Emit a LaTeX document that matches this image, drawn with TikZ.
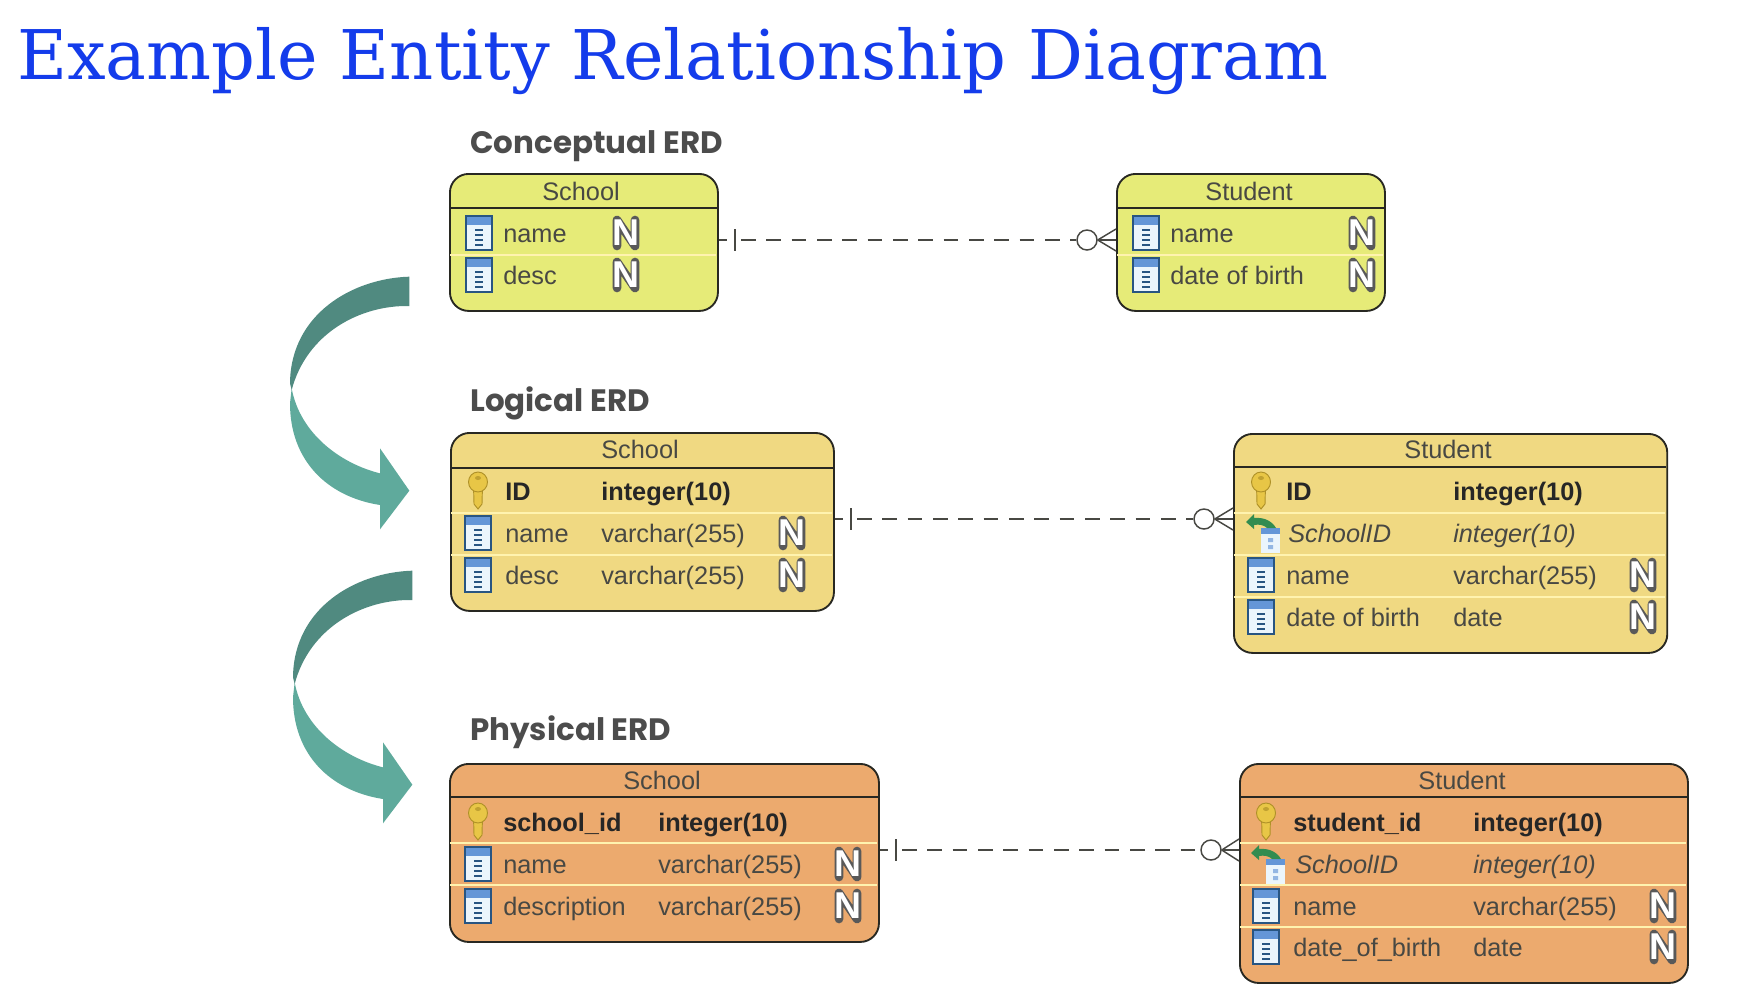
\documentclass[tikz,border=0pt]{standalone}
\usepackage{fontspec}
\setmainfont{Liberation Sans}
\newfontfamily\titlefont{DejaVu Serif}
\newfontfamily\headfont{Poppins}
\usetikzlibrary{calc}
\definecolor{concfill}{RGB}{230,235,120}
\definecolor{logfill}{RGB}{240,217,130}
\definecolor{physfill}{RGB}{236,170,110}
\definecolor{ink}{RGB}{40,40,34}
\definecolor{sepcream}{RGB}{255,243,175}
\definecolor{arrdark}{RGB}{80,138,128}
\definecolor{arrlight}{RGB}{95,170,156}
\definecolor{iconblue}{RGB}{100,150,215}
\definecolor{iconedge}{RGB}{40,85,130}
\definecolor{iconbody}{RGB}{235,245,252}
\definecolor{keygold}{RGB}{232,198,70}
\definecolor{keyedge}{RGB}{175,145,40}
\definecolor{fkgreen}{RGB}{50,140,80}
\tikzset{
  x=0.75pt,y=-0.75pt,
  erdbox/.style={draw=ink,line width=1.4pt,rounded corners=14pt,anchor=north west,inner sep=0pt},
  headline/.style={draw=ink,line width=1.3pt},
  rowsep/.style={draw=sepcream,line width=0.9pt},
  hdrtext/.style={font=\fontsize{19pt}{22pt}\selectfont,text=ink!85,inner sep=0pt,anchor=base,yshift=-0.75pt},
  fld/.style={font=\fontsize{19pt}{22pt}\selectfont,text=ink!85,inner sep=0pt,anchor=base west,yshift=-0.75pt},
  fldb/.style={font=\fontsize{19pt}{22pt}\selectfont\bfseries,text=black!85,inner sep=0pt,anchor=base west,yshift=-0.75pt},
  fldi/.style={font=\fontsize{19pt}{22pt}\selectfont\itshape,text=ink!85,inner sep=0pt,anchor=base west,yshift=-0.75pt},
  nulltxt/.style={font=\fontsize{28pt}{28pt}\selectfont\bfseries,text=white,inner sep=0pt,anchor=center},
  erdtitle/.style={font=\headfont\bfseries\fontsize{23.2pt}{27pt}\selectfont,text=black!70,inner sep=0pt,anchor=base west},
  stub/.style={draw=ink!85,line width=1.1pt},
  dashrel/.style={draw=ink!85,line width=1.1pt,dash pattern=on 11pt off 8pt},
  zeromark/.style={circle,draw=ink!85,line width=1.1pt,fill=white,minimum size=15pt,inner sep=0pt},
  colicon/.pic={
    \fill[iconbody] (-13,-17) rectangle (13,17);
    \fill[iconblue] (-13,-17) rectangle (13,-8);
    \draw[iconedge,line width=0.9pt] (-13,-17) rectangle (13,17);
    \draw[iconedge,line width=1pt] (-4,-3) -- (4,-3) (-4,2) -- (4,2) (-4,7) -- (4,7);
    \draw[iconedge,line width=2pt] (-4,12) -- (4,12);
  },
  keyicon/.pic={
    \draw[keyedge,fill=keygold,line width=0.7pt] (-4.5,-6) -- (4.5,-6) -- (4,13) -- (0,18) -- (-4,13) -- cycle;
    \draw[keyedge,fill=keygold,line width=0.7pt] (0,-9) ellipse [x radius=9.5,y radius=10];
    \fill[keyedge!70!keygold] (0,-13) ellipse [x radius=3,y radius=2];
  },
  fkicon/.pic={
    \fill[iconbody] (0,-5) rectangle (19,20);
    \fill[iconblue] (0,-5) rectangle (19,1);
    \fill[iconblue!70] (7,5) rectangle (12,9) (7,12) rectangle (12,16);
    \fill[fkgreen] (-15,-11) -- (-7,-19) -- (-7,-15) .. controls (3,-16) and (11,-12) .. (15,-5) -- (6,-5) .. controls (3,-8) and (-2,-9) .. (-7,-8) -- (-7,-4) -- cycle;
  },
  nullbadge/.pic={
    \draw[black!65,line width=6.5pt,line join=round,line cap=round] (-9,13) -- (-9,-13) -- (9,13) -- (9,-13);
  }
}
\newcommand{\bigarrow}[2]{%
  \begin{scope}[shift={(#1,#2)},x=0.25pt,y=-0.25pt]
    \fill[arrdark] (418,50) .. controls (250,55) and (62,160) .. (60,370) -- (65,390) .. controls (110,220) and (270,135) .. (418,138) -- cycle;
    \fill[arrlight] (65,385) .. controls (90,520) and (210,610) .. (330,640) -- (330,565) -- (418,692) -- (330,808) -- (330,735) .. controls (170,710) and (60,600) .. (60,430) -- cycle;
  \end{scope}}
\newcommand{\nullmark}[3]{%
  \pic at (#2,#3) {nullbadge};
  \node[nulltxt] (#1) at (#2,#3) {N};}
\begin{document}
\begin{tikzpicture}
\useasboundingbox (0,0) rectangle (1740,1004);
\fill[white] (0,0) rectangle (1740,1004);
\node[font=\titlefont\fontsize{51.4pt}{55pt}\selectfont,text={rgb,255:red,20;green,60;blue,235},inner sep=0pt,anchor=base west] (maintitle) at (17,79) {Example Entity Relationship Diagram};

\bigarrow{270}{260}
\bigarrow{273}{554}

\node[erdtitle] (t1) at (470,153) {Conceptual ERD};
\node[erdtitle] (t2) at (470,411) {Logical ERD};
\node[erdtitle] (t3) at (470,740) {Physical ERD};

% --- Conceptual
\node[erdbox,fill=concfill,minimum width=201pt,minimum height=102.75pt] (cs) at (449,173) {};
\draw[headline] (449,208) -- (717,208);
\draw[rowsep] (450,255) -- (716,255);
\node[hdrtext] (csh) at (581,199) {School};
\pic at (479,233) {colicon}; \node[fld] (cs1) at (503,241) {name}; \nullmark{cs1n}{626}{233}
\pic at (479,275) {colicon}; \node[fld] (cs2) at (503,283) {desc}; \nullmark{cs2n}{626}{275}

\node[erdbox,fill=concfill,minimum width=201pt,minimum height=102.75pt] (ct) at (1116,173) {};
\draw[headline] (1116,208) -- (1384,208);
\draw[rowsep] (1117,255) -- (1383,255);
\node[hdrtext] (cth) at (1249,199) {Student};
\pic at (1146,233) {colicon}; \node[fld] (ct1) at (1170,241) {name}; \nullmark{ct1n}{1362}{233}
\pic at (1146,275) {colicon}; \node[fld] (ct2) at (1170,283) {date of birth}; \nullmark{ct2n}{1362}{275}

% --- Logical
\node[erdbox,fill=logfill,minimum width=287.25pt,minimum height=133.5pt] (ls) at (450,432) {};
\draw[headline] (450,468) -- (833,468);
\draw[rowsep] (451,513) -- (832,513) (451,555) -- (832,555);
\node[hdrtext] (lsh) at (640,457) {School};
\pic at (478,491) {keyicon}; \node[fldb] (ls1) at (505,499) {ID}; \node[fldb] (ls1t) at (601,499) {integer(10)};
\pic at (478,533) {colicon}; \node[fld] (ls2) at (505,541) {name}; \node[fld] (ls2t) at (601,541) {varchar(255)}; \nullmark{ls2n}{792}{533}
\pic at (478,575) {colicon}; \node[fld] (ls3) at (505,583) {desc}; \node[fld] (ls3t) at (601,583) {varchar(255)}; \nullmark{ls3n}{792}{575}

\node[erdbox,fill=logfill,minimum width=325pt,minimum height=164.25pt] (lt) at (1233,433) {};
\draw[headline] (1233,467) -- (1666,467);
\draw[rowsep] (1234,513) -- (1665,513) (1234,555) -- (1665,555) (1234,597) -- (1665,597);
\node[hdrtext] (lth) at (1448,457) {Student};
\pic at (1261,491) {keyicon}; \node[fldb] (lt1) at (1286,499) {ID}; \node[fldb] (lt1t) at (1453,499) {integer(10)};
\pic at (1261,533) {fkicon}; \node[fldi] (lt2) at (1288,541) {SchoolID}; \node[fldi] (lt2t) at (1453,541) {integer(10)};
\pic at (1261,575) {colicon}; \node[fld] (lt3) at (1286,583) {name}; \node[fld] (lt3t) at (1453,583) {varchar(255)}; \nullmark{lt3n}{1643}{575}
\pic at (1261,617) {colicon}; \node[fld] (lt4) at (1286,625) {date of birth}; \node[fld] (lt4t) at (1453,625) {date}; \nullmark{lt4n}{1643}{617}

% --- Physical
\node[erdbox,fill=physfill,minimum width=321.75pt,minimum height=133.5pt] (ps) at (449,763) {};
\draw[headline] (449,797) -- (878,797);
\draw[rowsep] (450,843) -- (877,843) (450,885) -- (877,885);
\node[hdrtext] (psh) at (662,788) {School};
\pic at (478,822) {keyicon}; \node[fldb] (ps1) at (503,830) {school\_id}; \node[fldb] (ps1t) at (658,830) {integer(10)};
\pic at (478,864) {colicon}; \node[fld] (ps2) at (503,872) {name}; \node[fld] (ps2t) at (658,872) {varchar(255)}; \nullmark{ps2n}{848}{864}
\pic at (478,906) {colicon}; \node[fld] (ps3) at (503,914) {description}; \node[fld] (ps3t) at (658,914) {varchar(255)}; \nullmark{ps3n}{848}{906}

\node[erdbox,fill=physfill,minimum width=336pt,minimum height=164.25pt] (pt) at (1239,763) {};
\draw[headline] (1239,797) -- (1687,797);
\draw[rowsep] (1240,843) -- (1686,843) (1240,885) -- (1686,885) (1240,927) -- (1686,927);
\node[hdrtext] (pth) at (1462,788) {Student};
\pic at (1266,822) {keyicon}; \node[fldb] (pt1) at (1293,830) {student\_id}; \node[fldb] (pt1t) at (1473,830) {integer(10)};
\pic at (1266,864) {fkicon}; \node[fldi] (pt2) at (1295,872) {SchoolID}; \node[fldi] (pt2t) at (1473,872) {integer(10)};
\pic at (1266,906) {colicon}; \node[fld] (pt3) at (1293,914) {name}; \node[fld] (pt3t) at (1473,914) {varchar(255)}; \nullmark{pt3n}{1663}{906}
\pic at (1266,947) {colicon}; \node[fld] (pt4) at (1293,955) {date\_of\_birth}; \node[fld] (pt4t) at (1473,955) {date}; \nullmark{pt4n}{1663}{947}

% --- Relationships
\node[zeromark] (z1) at (1087,240) {};
\coordinate (b1) at (735,240);
\draw[stub] (cs.east |- b1) -- ($(b1)+(-8,0)$);
\draw[stub] ($(b1)+(0,-11)$) -- ($(b1)+(0,11)$);
\draw[dashrel] ($(b1)+(6,0)$) -- (z1);
\draw[stub] (z1.east) -- (ct.west |- z1);
\draw[stub] (z1.east) -- ($(ct.west |- z1)+(0,-11)$);
\draw[stub] (z1.east) -- ($(ct.west |- z1)+(0,11)$);

\node[zeromark] (z2) at (1204,519) {};
\coordinate (b2) at (851,519);
\draw[stub] (ls.east |- b2) -- ($(b2)+(-8,0)$);
\draw[stub] ($(b2)+(0,-11)$) -- ($(b2)+(0,11)$);
\draw[dashrel] ($(b2)+(6,0)$) -- (z2);
\draw[stub] (z2.east) -- (lt.west |- z2);
\draw[stub] (z2.east) -- ($(lt.west |- z2)+(0,-11)$);
\draw[stub] (z2.east) -- ($(lt.west |- z2)+(0,11)$);

\node[zeromark] (z3) at (1211,850) {};
\coordinate (b3) at (896,850);
\draw[stub] (ps.east |- b3) -- ($(b3)+(-8,0)$);
\draw[stub] ($(b3)+(0,-11)$) -- ($(b3)+(0,11)$);
\draw[dashrel] ($(b3)+(6,0)$) -- (z3);
\draw[stub] (z3.east) -- (pt.west |- z3);
\draw[stub] (z3.east) -- ($(pt.west |- z3)+(0,-11)$);
\draw[stub] (z3.east) -- ($(pt.west |- z3)+(0,11)$);
\end{tikzpicture}
\end{document}
